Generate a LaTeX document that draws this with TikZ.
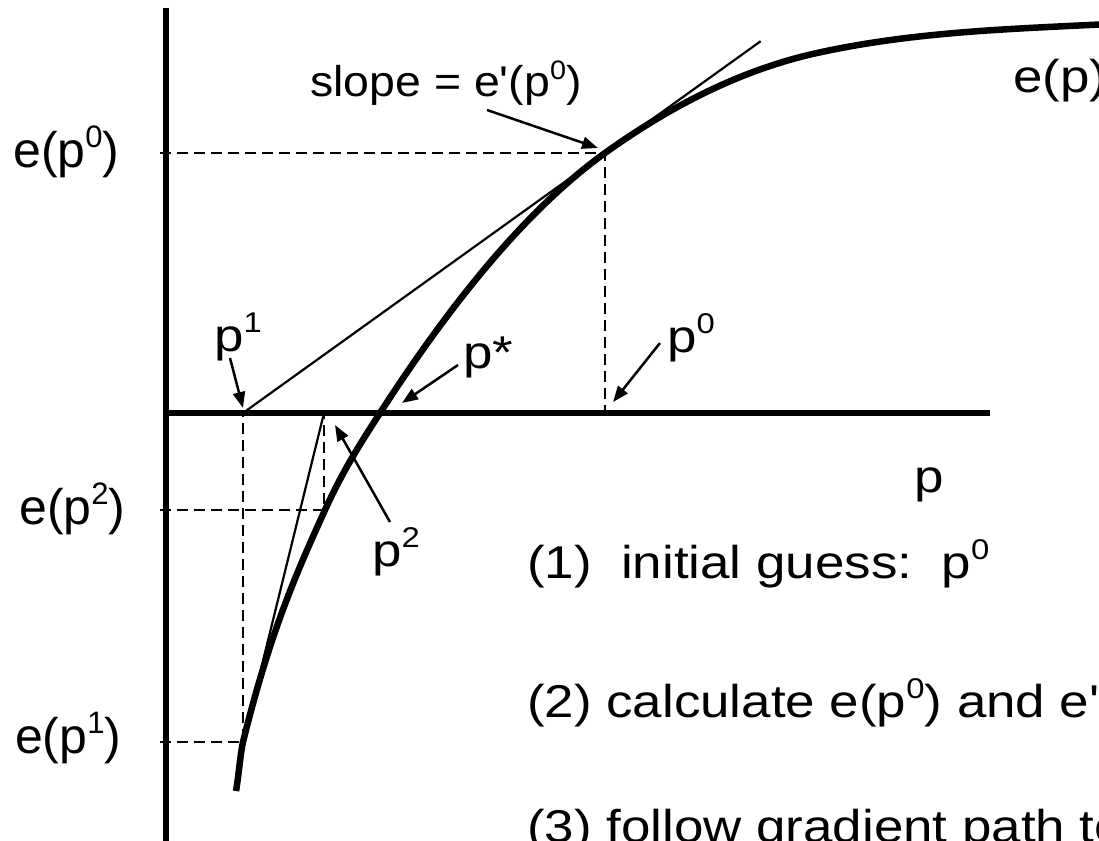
\documentclass[tikz,border=0pt]{standalone}
\usepackage{fontspec}
\usepackage{graphicx}
\setmainfont{Liberation Sans}
\usetikzlibrary{arrows.meta,calc}
\newcommand\supx[1]{\raisebox{0.40em}{\scalebox{0.62}{#1}}}
\newcommand\hs[1]{\scalebox{1.15}[1]{#1}}
\newcommand\hsb[1]{\scalebox{1.08}[1]{#1}}
\newcommand\apo{\textquotesingle}
\tikzset{
  axisline/.style={line width=6.5pt},
  curveline/.style={line width=6.5pt},
  tanline/.style={line width=2.2pt},
  dashline/.style={line width=2.4pt, dash pattern=on 11pt off 6pt},
  ar/.style={-{Triangle[length=16pt,width=12pt]}, line width=2.5pt},
  lbl/.style={inner sep=0pt, anchor=base west, font=\fontsize{46}{50}\selectfont},
  lbll/.style={inner sep=0pt, anchor=base west, font=\fontsize{50}{54}\selectfont},
}
\begin{document}
\begin{tikzpicture}[x=1pt,y=-1pt]
\useasboundingbox (0,0) rectangle (1099,840);
\clip (0,0) rectangle (1099,840);
% key points
\coordinate (A) at (236,791);
\coordinate (B) at (243,742);
\coordinate (C) at (325,510);
\coordinate (D) at (380,413);
\coordinate (E) at (605,153);
\coordinate (F) at (817,53);
\coordinate (G) at (1110,24);
\coordinate (P1) at (243,413);
\coordinate (P2) at (324,413);
\coordinate (P0) at (605,413);
\coordinate (Y0) at (160,153);
\coordinate (Y2) at (160,510);
\coordinate (Y1) at (160,742);
\coordinate (B2) at (324,510);
% axes
\coordinate (Ot) at (166,8);
\coordinate (Ob) at (166,845);
\coordinate (Xl) at (163,413);
\coordinate (Xr) at (990,413);
\draw[axisline] (Ot) -- (Ob);
\draw[axisline] (Xl) -- (Xr);
% dashed guides
\draw[dashline] (Y0) -- (E) -- (P0);
\draw[dashline] (Y2) -- (B2) -- (P2);
\draw[dashline] (Y1) -- (B) -- (P1);
% tangent lines
\coordinate (T1) at ($(P1)!1.43!(E)$);
\draw[tanline] (P1) -- (T1);
\draw[tanline] (B) -- (P2);
% curve
\draw[curveline]
  (A) .. controls (238.33,778.2) and (240.67,751.5) .. (B)
      .. controls (270.33,631.0) and (297.67,570.1) .. (C)
      .. controls (343.33,469.7) and (361.67,441.4) .. (D)
      .. controls (455,296.75) and (530,206.85) .. (E)
      .. controls (675.67,102.26) and (746.33,68.55) .. (F)
      .. controls (914.67,31.5) and (1012.33,28.9) .. (G);
% labels
\node[lbl, font=\fontsize{43}{48}\selectfont] (slope) at (310,97) {\hsb{slope = e\apo(p\supx{0})}};
\node[lbl] (ep) at (1013,93) {\hs{e(p)}};
\node[lbll] (ey0) at (13,167) {e(p\supx{0})};
\node[lbll] (ey2) at (19,524) {e(p\supx{2})};
\node[lbll] (ey1) at (15,753) {e(p\supx{1})};
\node[lbl] (lp1) at (214,351) {\hs{p\supx{1}}};
\node[lbl] (lps) at (463,368) {\hs{p*}};
\node[lbl] (lp0) at (667,352) {\hs{p\supx{0}}};
\node[lbl] (lp2) at (372,566) {\hs{p\supx{2}}};
\node[lbl] (lp) at (914,492) {\hs{p}};
\node[lbl] (s1) at (527,578) {\hs{(1)\ \ initial guess:\ \ p\supx{0}}};
\node[lbl] (s2) at (527,717) {\hs{(2) calculate e(p\supx{0}) and e\apo(p\supx{0})}};
\node[lbl] (s3) at (527,842) {\hs{(3) follow gradient path to}};
% arrows
\coordinate (as0) at (487,110); \coordinate (ae0) at (598,148);
\coordinate (as1) at (230,358); \coordinate (ae1) at (243,408);
\coordinate (as2) at (458,365); \coordinate (ae2) at (402,403);
\coordinate (as3) at (660,343); \coordinate (ae3) at (613,402);
\coordinate (as4) at (390,522); \coordinate (ae4) at (335,425);
\draw[ar] (as0) -- (ae0);
\draw[ar] (as1) -- (ae1);
\draw[ar] (as2) -- (ae2);
\draw[ar] (as3) -- (ae3);
\draw[ar] (as4) -- (ae4);
\end{tikzpicture}
\end{document}
